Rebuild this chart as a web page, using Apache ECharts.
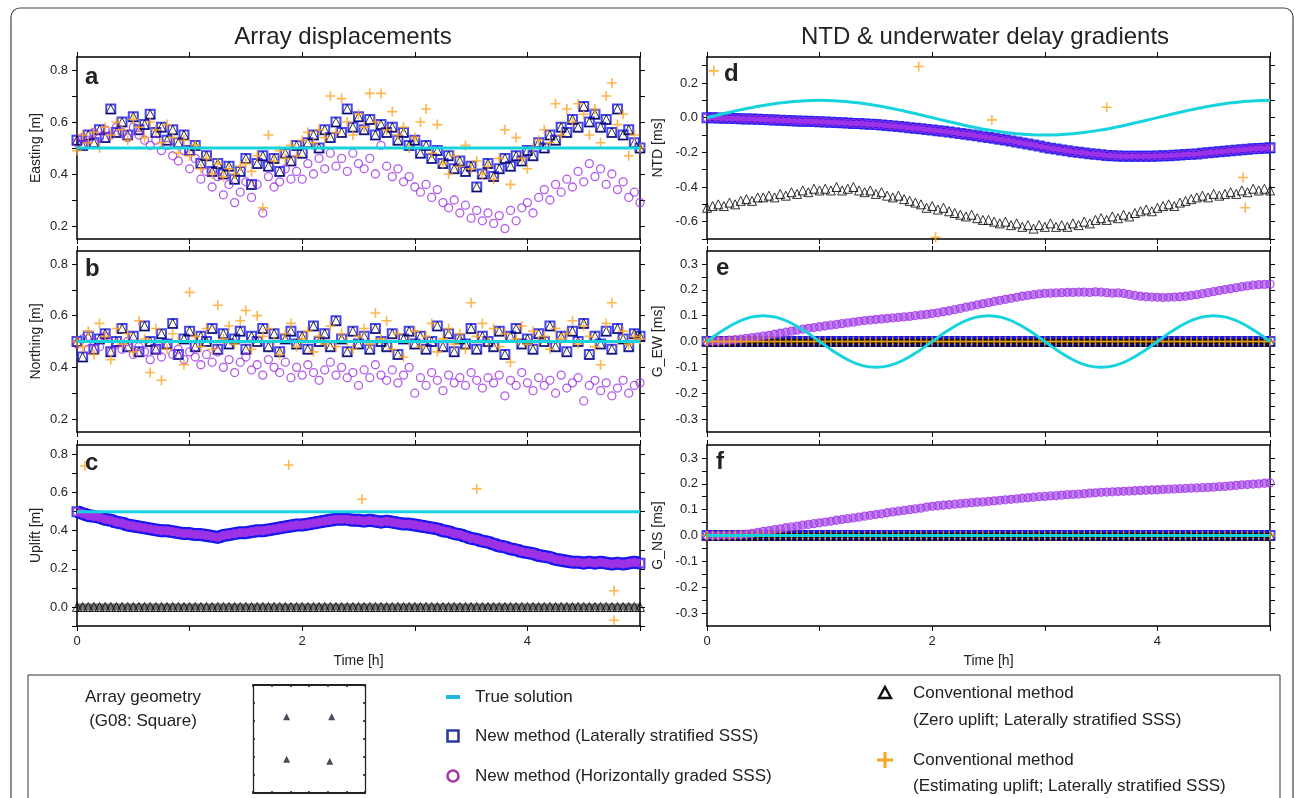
<!DOCTYPE html>
<html><head><meta charset="utf-8">
<script src="https://cdn.jsdelivr.net/npm/echarts@6/dist/echarts.min.js"></script>
<style>html,body{margin:0;padding:0;background:#fff}#c{width:1295px;height:798px}</style>
</head><body><div id="c"></div>
<script>
// epochs [h]
const T = [0,0.05,0.1,0.15,0.2,0.25,0.3,0.35,0.4,0.45,
0.5,0.55,0.6,0.65,0.7,0.75,0.8,0.85,0.9,0.95,
1,1.05,1.1,1.15,1.2,1.25,1.3,1.35,1.4,1.45,
1.5,1.55,1.6,1.65,1.7,1.75,1.8,1.85,1.9,1.95,
2,2.05,2.1,2.15,2.2,2.25,2.3,2.35,2.4,2.45,
2.5,2.55,2.6,2.65,2.7,2.75,2.8,2.85,2.9,2.95,
3,3.05,3.1,3.15,3.2,3.25,3.3,3.35,3.4,3.45,
3.5,3.55,3.6,3.65,3.7,3.75,3.8,3.85,3.9,3.95,
4,4.05,4.1,4.15,4.2,4.25,4.3,4.35,4.4,4.45,
4.5,4.55,4.6,4.65,4.7,4.75,4.8,4.85,4.9,4.95,
5];
const TE = [0,0.125,0.25,0.375,0.5,0.625,0.75,0.875,1,1.125,1.25,1.375,1.5,1.625,1.75,1.875,
2,2.125,2.25,2.375,2.5,2.625,2.75,2.875,3,3.125,3.25,3.375,3.5,3.625,3.75,3.875,
4,4.125,4.25,4.375,4.5,4.625,4.75,4.875,5];
const ZERO = [0,0,0,0,0,0,0,0,0,0, 0,0,0,0,0,0,0,0,0,0, 0,0,0,0,0,0,0,0,0,0, 0,0,0,0,0,0,0,0,0,0,
0,0,0,0,0,0,0,0,0,0, 0,0,0,0,0,0,0,0,0,0, 0,0,0,0,0,0,0,0,0,0, 0,0,0,0,0,0,0,0,0,0,
0,0,0,0,0,0,0,0,0,0, 0,0,0,0,0,0,0,0,0,0, 0];

// (a) Easting
const A_TRUE = [[0,0.5],[5,0.5]];
const A_NEW = [0.53,0.51,0.55,0.52,0.57,0.54,0.65,0.56,0.60,0.55,
0.62,0.57,0.59,0.63,0.56,0.58,0.53,0.57,0.52,0.55,
0.49,0.51,0.44,0.47,0.41,0.44,0.40,0.43,0.38,0.41,
0.46,0.36,0.44,0.47,0.43,0.46,0.41,0.48,0.45,0.51,
0.48,0.52,0.55,0.50,0.57,0.54,0.60,0.56,0.65,0.58,
0.62,0.57,0.61,0.55,0.59,0.56,0.58,0.53,0.56,0.51,
0.53,0.48,0.51,0.46,0.49,0.44,0.47,0.42,0.45,0.41,
0.43,0.35,0.40,0.44,0.39,0.42,0.46,0.43,0.47,0.45,
0.49,0.47,0.52,0.50,0.55,0.53,0.58,0.56,0.61,0.58,
0.66,0.60,0.63,0.58,0.61,0.56,0.65,0.55,0.57,0.52,
0.50];
const A_CONV = A_NEW; // zero-uplift solution coincides horizontally
const A_EST = [0.49,0.55,0.52,0.56,0.50,0.58,0.55,0.60,0.57,0.53,
0.61,0.58,0.54,0.60,0.57,0.52,0.59,0.54,0.48,0.53,
0.47,0.51,0.42,0.46,0.40,0.44,0.39,0.42,0.40,0.43,
0.44,0.41,0.47,0.27,0.55,0.45,0.49,0.46,0.51,0.47,
0.53,0.56,0.52,0.57,0.54,0.70,0.56,0.69,0.60,0.55,
0.63,0.58,0.71,0.60,0.71,0.57,0.64,0.55,0.58,0.50,
0.54,0.60,0.65,0.48,0.59,0.44,0.40,0.47,0.43,0.51,
0.42,0.45,0.40,0.43,0.38,0.46,0.57,0.36,0.54,0.46,
0.42,0.50,0.53,0.57,0.52,0.67,0.55,0.65,0.60,0.67,
0.63,0.55,0.65,0.52,0.70,0.75,0.59,0.63,0.47,0.55,
0.50];
const A_HOR = [0.52,0.54,0.53,0.56,0.54,0.57,0.55,0.58,0.56,0.54,
0.58,0.55,0.53,0.51,0.53,0.49,0.51,0.47,0.45,0.49,
0.42,0.46,0.38,0.41,0.35,0.39,0.32,0.36,0.29,0.33,
0.37,0.31,0.36,0.25,0.39,0.35,0.37,0.42,0.38,0.41,
0.38,0.44,0.40,0.46,0.42,0.48,0.43,0.46,0.41,0.48,
0.44,0.42,0.46,0.40,0.51,0.43,0.39,0.42,0.37,0.39,
0.35,0.33,0.36,0.31,0.34,0.29,0.27,0.30,0.25,0.28,
0.23,0.26,0.22,0.25,0.21,0.24,0.19,0.26,0.22,0.27,
0.29,0.25,0.31,0.34,0.30,0.36,0.33,0.38,0.35,0.41,
0.37,0.44,0.39,0.42,0.36,0.40,0.34,0.37,0.31,0.33,
0.29];

// (b) Northing
const B_TRUE = [[0,0.5],[5,0.5]];
const B_NEW = [0.50,0.44,0.52,0.47,0.51,0.53,0.46,0.50,0.55,0.48,
0.52,0.46,0.56,0.50,0.47,0.53,0.49,0.57,0.45,0.51,
0.54,0.48,0.52,0.50,0.55,0.47,0.53,0.49,0.51,0.54,
0.47,0.52,0.50,0.55,0.48,0.53,0.46,0.51,0.54,0.49,
0.52,0.47,0.56,0.50,0.53,0.48,0.58,0.51,0.46,0.54,
0.49,0.52,0.47,0.55,0.50,0.48,0.53,0.45,0.51,0.54,
0.49,0.52,0.47,0.50,0.56,0.48,0.53,0.46,0.51,0.49,
0.55,0.47,0.52,0.50,0.48,0.54,0.45,0.52,0.55,0.49,
0.51,0.47,0.53,0.50,0.56,0.48,0.52,0.46,0.54,0.50,
0.57,0.45,0.52,0.49,0.54,0.47,0.55,0.51,0.48,0.53,
0.52];
const B_CONV = B_NEW;
const B_EST = [0.50,0.48,0.54,0.45,0.57,0.52,0.43,0.55,0.49,0.53,
0.46,0.58,0.51,0.38,0.55,0.35,0.47,0.53,0.50,0.41,
0.69,0.52,0.48,0.55,0.47,0.64,0.51,0.56,0.49,0.58,
0.62,0.47,0.60,0.52,0.55,0.50,0.45,0.53,0.57,0.48,
0.51,0.54,0.46,0.52,0.49,0.56,0.48,0.53,0.50,0.47,
0.52,0.55,0.49,0.61,0.51,0.58,0.47,0.53,0.44,0.50,
0.54,0.48,0.52,0.57,0.46,0.51,0.55,0.49,0.53,0.47,
0.65,0.52,0.57,0.50,0.55,0.48,0.53,0.42,0.51,0.56,
0.49,0.54,0.50,0.52,0.47,0.55,0.51,0.53,0.58,0.49,
0.56,0.52,0.48,0.41,0.57,0.65,0.50,0.54,0.49,0.52,
0.51];
const B_HOR = [0.49,0.51,0.47,0.50,0.48,0.52,0.46,0.49,0.47,0.50,
0.45,0.48,0.46,0.43,0.47,0.44,0.49,0.45,0.47,0.43,
0.46,0.44,0.41,0.45,0.42,0.46,0.40,0.43,0.38,0.42,
0.44,0.39,0.41,0.37,0.43,0.40,0.38,0.42,0.36,0.40,
0.37,0.41,0.38,0.35,0.39,0.42,0.37,0.40,0.36,0.38,
0.33,0.39,0.36,0.41,0.37,0.35,0.39,0.34,0.37,0.40,
0.30,0.36,0.33,0.38,0.35,0.31,0.37,0.34,0.36,0.33,
0.38,0.35,0.32,0.36,0.34,0.37,0.29,0.35,0.33,0.38,
0.34,0.31,0.36,0.33,0.35,0.30,0.37,0.32,0.34,0.36,
0.27,0.33,0.35,0.31,0.34,0.29,0.32,0.35,0.30,0.33,
0.34];

// (c) Uplift
const C_TRUE = [[0,0.5],[5,0.5]];
const C_NEW = [0.500,0.490,0.480,0.475,0.470,0.460,0.455,0.445,0.440,0.430,
0.425,0.420,0.415,0.410,0.405,0.400,0.400,0.395,0.390,0.385,
0.385,0.380,0.380,0.375,0.370,0.365,0.375,0.380,0.385,0.390,
0.390,0.395,0.400,0.400,0.405,0.410,0.415,0.420,0.425,0.430,
0.430,0.435,0.440,0.445,0.450,0.455,0.460,0.460,0.460,0.455,
0.455,0.450,0.455,0.450,0.445,0.450,0.445,0.440,0.435,0.435,
0.430,0.425,0.420,0.415,0.410,0.400,0.395,0.385,0.380,0.370,
0.360,0.355,0.345,0.340,0.330,0.320,0.315,0.305,0.300,0.290,
0.285,0.280,0.270,0.265,0.260,0.250,0.245,0.240,0.235,0.235,
0.230,0.235,0.230,0.235,0.230,0.225,0.230,0.225,0.230,0.235,
0.230];
const C_HOR = C_NEW;
const C_CONV = ZERO;
const C_EST = [[0.07,0.74],[1.88,0.745],[2.53,0.565],[3.55,0.62],[4.77,0.085],[4.77,-0.07]];

// (d) NTD
const D_TRUE = [0,0.0195,0.0383,0.0556,0.0707,0.0831,0.0924,0.0981,0.1,
0.0981,0.0924,0.0831,0.0707,0.0556,0.0383,0.0195,0,
-0.0195,-0.0383,-0.0556,-0.0707,-0.0831,-0.0924,-0.0981,-0.1,
-0.0981,-0.0924,-0.0831,-0.0707,-0.0556,-0.0383,-0.0195,0,
0.0195,0.0383,0.0556,0.0707,0.0831,0.0924,0.0981,0.1];
const D_NEW = [0.000,-0.001,-0.002,-0.003,-0.004,-0.005,-0.006,-0.007,-0.008,-0.009,
-0.010,-0.012,-0.013,-0.015,-0.016,-0.018,-0.019,-0.020,-0.021,-0.022,
-0.023,-0.025,-0.026,-0.028,-0.029,-0.031,-0.033,-0.034,-0.036,-0.038,
-0.040,-0.042,-0.045,-0.048,-0.051,-0.054,-0.058,-0.061,-0.064,-0.068,
-0.071,-0.075,-0.079,-0.083,-0.087,-0.092,-0.096,-0.100,-0.105,-0.110,
-0.114,-0.119,-0.124,-0.129,-0.134,-0.140,-0.146,-0.152,-0.158,-0.164,
-0.170,-0.176,-0.181,-0.186,-0.191,-0.196,-0.200,-0.204,-0.208,-0.211,
-0.214,-0.218,-0.220,-0.221,-0.222,-0.222,-0.223,-0.223,-0.223,-0.222,
-0.221,-0.220,-0.219,-0.217,-0.215,-0.213,-0.211,-0.209,-0.206,-0.203,
-0.200,-0.197,-0.194,-0.191,-0.188,-0.185,-0.182,-0.180,-0.178,-0.176,
-0.174];
const D_HOR = D_NEW;
const D_CONV = [-0.52,-0.51,-0.50,-0.51,-0.49,-0.50,-0.48,-0.47,-0.48,-0.46,
-0.46,-0.45,-0.46,-0.44,-0.45,-0.43,-0.44,-0.42,-0.43,-0.41,
-0.42,-0.41,-0.42,-0.40,-0.42,-0.41,-0.40,-0.42,-0.43,-0.42,
-0.44,-0.43,-0.45,-0.46,-0.45,-0.47,-0.48,-0.49,-0.50,-0.52,
-0.51,-0.53,-0.52,-0.54,-0.55,-0.56,-0.57,-0.56,-0.58,-0.59,
-0.59,-0.60,-0.61,-0.60,-0.62,-0.61,-0.63,-0.62,-0.64,-0.62,
-0.63,-0.61,-0.63,-0.62,-0.63,-0.61,-0.62,-0.60,-0.61,-0.59,
-0.58,-0.59,-0.57,-0.58,-0.56,-0.57,-0.55,-0.54,-0.53,-0.54,
-0.52,-0.51,-0.50,-0.51,-0.49,-0.48,-0.47,-0.46,-0.45,-0.46,
-0.44,-0.45,-0.44,-0.43,-0.44,-0.42,-0.43,-0.41,-0.42,-0.41,
-0.42];
const D_EST = [[0.06,0.27],[1.88,0.295],[2.03,-0.69],[2.53,-0.013],[3.55,0.06],[4.76,-0.345],[4.78,-0.52]];

// (e) G_EW
const E_TRUE = [0,0.0383,0.0707,0.0924,0.1,0.0924,0.0707,0.0383,0,
-0.0383,-0.0707,-0.0924,-0.1,-0.0924,-0.0707,-0.0383,0,
0.0383,0.0707,0.0924,0.1,0.0924,0.0707,0.0383,0,
-0.0383,-0.0707,-0.0924,-0.1,-0.0924,-0.0707,-0.0383,0,
0.0383,0.0707,0.0924,0.1,0.0924,0.0707,0.0383,0];
const E_LAT = ZERO;
const E_HOR = [0.000,0.001,0.002,0.003,0.005,0.007,0.009,0.012,0.015,0.018,
0.021,0.024,0.028,0.032,0.036,0.040,0.044,0.048,0.051,0.054,
0.057,0.060,0.063,0.066,0.069,0.072,0.075,0.078,0.081,0.083,
0.085,0.087,0.089,0.091,0.093,0.095,0.097,0.100,0.103,0.105,
0.108,0.111,0.115,0.119,0.123,0.128,0.133,0.137,0.142,0.146,
0.150,0.155,0.159,0.163,0.167,0.171,0.175,0.178,0.181,0.184,
0.186,0.187,0.188,0.189,0.190,0.190,0.191,0.191,0.190,0.192,
0.191,0.189,0.187,0.188,0.186,0.182,0.178,0.175,0.173,0.172,
0.171,0.170,0.171,0.172,0.173,0.175,0.178,0.181,0.185,0.189,
0.193,0.197,0.201,0.204,0.208,0.212,0.215,0.218,0.220,0.221,
0.222];

// (f) G_NS
const F_TRUE = [[0,0],[5,0]];
const F_LAT = ZERO;
const F_HOR = [0.000,0.000,0.000,0.001,0.001,0.002,0.003,0.005,0.008,0.012,
0.016,0.019,0.023,0.026,0.030,0.033,0.036,0.040,0.043,0.046,
0.049,0.052,0.055,0.059,0.062,0.065,0.068,0.071,0.075,0.078,
0.081,0.084,0.088,0.091,0.094,0.097,0.100,0.103,0.106,0.110,
0.113,0.115,0.117,0.119,0.121,0.123,0.125,0.127,0.129,0.130,
0.132,0.134,0.136,0.138,0.140,0.142,0.144,0.146,0.148,0.150,
0.151,0.153,0.154,0.156,0.158,0.159,0.160,0.162,0.164,0.165,
0.167,0.168,0.169,0.170,0.171,0.172,0.173,0.174,0.175,0.176,
0.177,0.178,0.179,0.180,0.181,0.182,0.183,0.184,0.185,0.186,
0.187,0.189,0.190,0.192,0.194,0.196,0.197,0.199,0.200,0.202,
0.203];

// array geometry (G08: Square), station positions in inset units
const STATIONS = [[-1.2,1.23],[1.215,1.23],[-1.2,-1.125],[1.11,-1.23]];

// tick values / labels
const X_TICK_LABELS = [0,2,4];
const TICK_AB = [0.2,0.3,0.4,0.5,0.6,0.7,0.8];
const LAB_AB = [0.2,0.4,0.6,0.8];
const TICK_C = [-0.1,0,0.1,0.2,0.3,0.4,0.5,0.6,0.7,0.8];
const LAB_C = [0,0.2,0.4,0.6,0.8];
const TICK_D = [-0.7,-0.6,-0.5,-0.4,-0.3,-0.2,-0.1,0,0.1,0.2,0.3];
const LAB_D = [-0.6,-0.4,-0.2,0,0.2];
const TICK_EF = [-0.3,-0.25,-0.2,-0.15,-0.1,-0.05,0,0.05,0.1,0.15,0.2,0.25,0.3];
const LAB_EF = [-0.3,-0.2,-0.1,0,0.1,0.2,0.3];

const CYAN = '#16d3dd', BLUE = '#1616f0', PURPLE = '#9d32e6', ORANGE = '#fca522', BLACK = '#000';
const FONT = '"Liberation Sans", Arial, Helvetica, sans-serif';

const PANELS = [
  {name:'Easting [m]', min:0.15, max:0.85, ticks:TICK_AB, labels:LAB_AB, left:77, top:57, height:182, bottom:false},
  {name:'Northing [m]', min:0.15, max:0.85, ticks:TICK_AB, labels:LAB_AB, left:77, top:251, height:181, bottom:false},
  {name:'Uplift [m]', min:-0.1, max:0.85, ticks:TICK_C, labels:LAB_C, left:77, top:445, height:181, bottom:true},
  {name:'NTD [ms]', min:-0.7, max:0.35, ticks:TICK_D, labels:LAB_D, left:707, top:57, height:182, bottom:false},
  {name:'G_EW [ms]', min:-0.35, max:0.35, ticks:TICK_EF, labels:LAB_EF, left:707, top:251, height:181, bottom:false},
  {name:'G_NS [ms]', min:-0.35, max:0.35, ticks:TICK_EF, labels:LAB_EF, left:707, top:445, height:181, bottom:true}
];

const grids = [], xAxes = [], yAxes = [];
const axLine = {onZero:false, lineStyle:{color:'#000', width:1.5}};
PANELS.forEach((p, i) => {
  grids.push({left:p.left, top:p.top, width:563, height:p.height, containLabel:false, outerBoundsMode:'none'});
  xAxes.push({gridIndex:i, type:'value', min:0, max:5, interval:1, position:'bottom',
    axisLine:axLine, axisTick:{length:5, lineStyle:{color:'#000', width:1}}, splitLine:{show:false},
    axisLabel:{show:p.bottom, customValues:X_TICK_LABELS, fontSize:13, color:'#222', margin:9, fontFamily:FONT},
    name:p.bottom ? 'Time [h]' : '', nameLocation:'middle', nameGap:28,
    nameTextStyle:{fontSize:14, color:'#222', fontFamily:FONT}});
  xAxes.push({gridIndex:i, type:'value', min:0, max:5, interval:1, position:'top',
    axisLine:axLine, axisTick:{length:5, lineStyle:{color:'#000', width:1}}, splitLine:{show:false},
    axisLabel:{show:false}});
  yAxes.push({gridIndex:i, type:'value', min:p.min, max:p.max, position:'left',
    axisLine:axLine, axisTick:{customValues:p.ticks, length:5, lineStyle:{color:'#000', width:1}}, splitLine:{show:false},
    axisLabel:{customValues:p.labels, formatter:v => Number(v).toFixed(1), fontSize:13, color:'#222', margin:9, fontFamily:FONT},
    name:p.name, nameLocation:'middle', nameGap: i < 3 ? 34 : 42,
    nameTextStyle:{fontSize:14, color:'#222', fontFamily:FONT}});
  yAxes.push({gridIndex:i, type:'value', min:p.min, max:p.max, position:'right',
    axisLine:axLine, axisTick:{customValues:p.ticks, length:5, lineStyle:{color:'#000', width:1}}, splitLine:{show:false},
    axisLabel:{show:false}});
});
// inset grid for array geometry
grids.push({left:253, top:685, width:112, height:108, containLabel:false, outerBoundsMode:'none'});
['bottom','top'].forEach(pos => xAxes.push({gridIndex:6, type:'value', min:-3, max:3, interval:1, position:pos,
  axisLine:{onZero:false, lineStyle:{color:'#222', width:1.8}}, axisTick:{inside:true, length:2, lineStyle:{color:'#222', width:1.5}},
  axisLabel:{show:false}, splitLine:{show:false}}));
['left','right'].forEach(pos => yAxes.push({gridIndex:6, type:'value', min:-3, max:3, interval:1, position:pos,
  axisLine:{onZero:false, lineStyle:{color:'#222', width:1.3}}, axisTick:{inside:true, length:2, lineStyle:{color:'#222', width:1.5}},
  axisLabel:{show:false}, splitLine:{show:false}}));

const pts = ys => T.map((t, k) => [t, ys[k]]);
const ptsE = ys => TE.map((t, k) => [t, ys[k]]);
const PLUS = 'path://M4.2,0H5.8V4.2H10V5.8H5.8V10H4.2V5.8H0V4.2H4.2Z';
const ST = {
  sq: {symbol:'rect', symbolSize:9, itemStyle:{color:'rgba(0,0,0,0)', borderColor:BLUE, borderWidth:2}, z:2},
  tri: {symbol:'triangle', symbolSize:9, itemStyle:{color:'rgba(0,0,0,0)', borderColor:BLACK, borderWidth:1}, z:3},
  cir: {symbol:'circle', symbolSize:8, itemStyle:{color:'rgba(0,0,0,0)', borderColor:PURPLE, borderWidth:1.3}, z:4},
  plus: {symbol:PLUS, symbolSize:10, itemStyle:{color:ORANGE}, z:5}
};
const series = [];
function sc(g, data, st) {
  series.push(Object.assign({type:'scatter', xAxisIndex:2*g, yAxisIndex:2*g, data:data, silent:true, clip:true}, st));
}
function ln(g, data, smooth) {
  series.push({type:'line', xAxisIndex:2*g, yAxisIndex:2*g, data:data, showSymbol:false, symbol:'none', smooth:smooth ? 0.5 : false,
    lineStyle:{color:CYAN, width:3}, silent:true, z:6});
}
// dense stacks of markers drawn as a continuous band behind them
function band(g, data, color, width, z, opacity) {
  series.push({type:'line', xAxisIndex:2*g, yAxisIndex:2*g, data:data, showSymbol:false, symbol:'none',
    lineStyle:{color:color, width:width, opacity:opacity == null ? 1 : opacity, cap:'butt', join:'round'}, silent:true, z:z});
}
// a
sc(0, pts(A_NEW), ST.sq); sc(0, pts(A_CONV), ST.tri); sc(0, pts(A_HOR), ST.cir); sc(0, pts(A_EST), ST.plus); ln(0, A_TRUE);
// b
sc(1, pts(B_NEW), ST.sq); sc(1, pts(B_CONV), ST.tri); sc(1, pts(B_HOR), ST.cir); sc(1, pts(B_EST), ST.plus); ln(1, B_TRUE);
// c
band(2, pts(C_NEW), BLUE, 13, 1); band(2, pts(C_HOR), PURPLE, 8, 3.5); band(2, pts(C_CONV), '#000', 7, 2.5, 0.55);
sc(2, pts(C_NEW), ST.sq); sc(2, pts(C_CONV), ST.tri); sc(2, pts(C_HOR), ST.cir); sc(2, C_EST, ST.plus); ln(2, C_TRUE);
// d
band(3, pts(D_NEW), BLUE, 9, 1); band(3, pts(D_HOR), PURPLE, 5, 3.5);
sc(3, pts(D_NEW), ST.sq); sc(3, pts(D_CONV), ST.tri); sc(3, pts(D_HOR), ST.cir); sc(3, D_EST, ST.plus); ln(3, ptsE(D_TRUE), true);
// e
band(4, pts(E_LAT), BLUE, 11, 1); band(4, pts(E_LAT), '#111', 5, 2.5); band(4, pts(E_HOR), '#b467f0', 7, 3.8, 0.8);
sc(4, pts(E_LAT), ST.sq); sc(4, pts(E_LAT), ST.tri); sc(4, pts(E_LAT), ST.plus); sc(4, pts(E_HOR), ST.cir); ln(4, ptsE(E_TRUE), true);
// f
band(5, pts(F_LAT), BLUE, 11, 1); band(5, pts(F_LAT), '#111', 5, 2.5); band(5, pts(F_HOR), '#b467f0', 7, 3.8, 0.8);
sc(5, pts(F_LAT), ST.sq); sc(5, pts(F_LAT), ST.tri); sc(5, pts(F_LAT), ST.plus); sc(5, pts(F_HOR), ST.cir); ln(5, F_TRUE);
// inset stations
series.push({type:'scatter', xAxisIndex:12, yAxisIndex:12, data:STATIONS, symbol:'triangle', symbolSize:7,
  itemStyle:{color:'#1c1c34'}, silent:true});

function txt(x, y, s, size, opts) {
  return {type:'text', x:x, y:y, z:100, silent:true,
    style:{text:s, font:(opts && opts.bold ? 'bold ' : '') + size + 'px ' + FONT, fill:'#222',
      align:(opts && opts.align) || 'left', verticalAlign:'middle'}};
}
const graphics = [
  {type:'rect', shape:{x:11, y:8, width:1282, height:830, r:9}, style:{fill:'none', stroke:'#444', lineWidth:1.2}, silent:true, z:-1},
  {type:'rect', shape:{x:28, y:675, width:1252, height:140}, style:{fill:'none', stroke:'#333', lineWidth:1}, silent:true},
  txt(343, 37, 'Array displacements', 24, {align:'center'}),
  txt(985, 37, 'NTD & underwater delay gradients', 24, {align:'center'}),
  txt(85, 77, 'a', 24, {bold:true}), txt(85, 269, 'b', 24, {bold:true}), txt(85, 463, 'c', 24, {bold:true}),
  txt(724, 74, 'd', 24, {bold:true}), txt(716, 268, 'e', 24, {bold:true}), txt(716, 462, 'f', 24, {bold:true}),
  txt(143, 697, 'Array geometry', 17, {align:'center'}),
  txt(143, 721, '(G08: Square)', 17, {align:'center'}),
  {type:'rect', shape:{x:446, y:695, width:14, height:4}, style:{fill:'#1fb6e2'}, silent:true},
  txt(475, 697, 'True solution', 17),
  {type:'rect', shape:{x:447.5, y:730.5, width:11, height:11}, style:{fill:'none', stroke:'#2b3a9c', lineWidth:2.6}, silent:true},
  txt(475, 736, 'New method (Laterally stratified SSS)', 17),
  {type:'circle', shape:{cx:453, cy:776, r:5.5}, style:{fill:'none', stroke:'#a43ca0', lineWidth:2.6}, silent:true},
  txt(475, 776, 'New method (Horizontally graded SSS)', 17),
  {type:'polygon', shape:{points:[[879,698],[891,698],[885,687]]}, style:{fill:'none', stroke:'#111', lineWidth:2.4}, silent:true},
  txt(913, 693, 'Conventional method', 17),
  txt(913, 720, '(Zero uplift; Laterally stratified SSS)', 17),
  {type:'rect', shape:{x:877, y:758.5, width:16, height:3}, style:{fill:'#f6a623'}, silent:true},
  {type:'rect', shape:{x:883.5, y:752, width:3, height:16}, style:{fill:'#f6a623'}, silent:true},
  txt(913, 760, 'Conventional method', 17),
  txt(913, 786, '(Estimating uplift; Laterally stratified SSS)', 17)
];

const chart = echarts.init(document.getElementById('c'), null, {renderer:'canvas'});
chart.setOption({
  animation:false,
  backgroundColor:'#fff',
  textStyle:{fontFamily:FONT},
  grid:grids, xAxis:xAxes, yAxis:yAxes, series:series, graphic:graphics
});
</script></body></html>
